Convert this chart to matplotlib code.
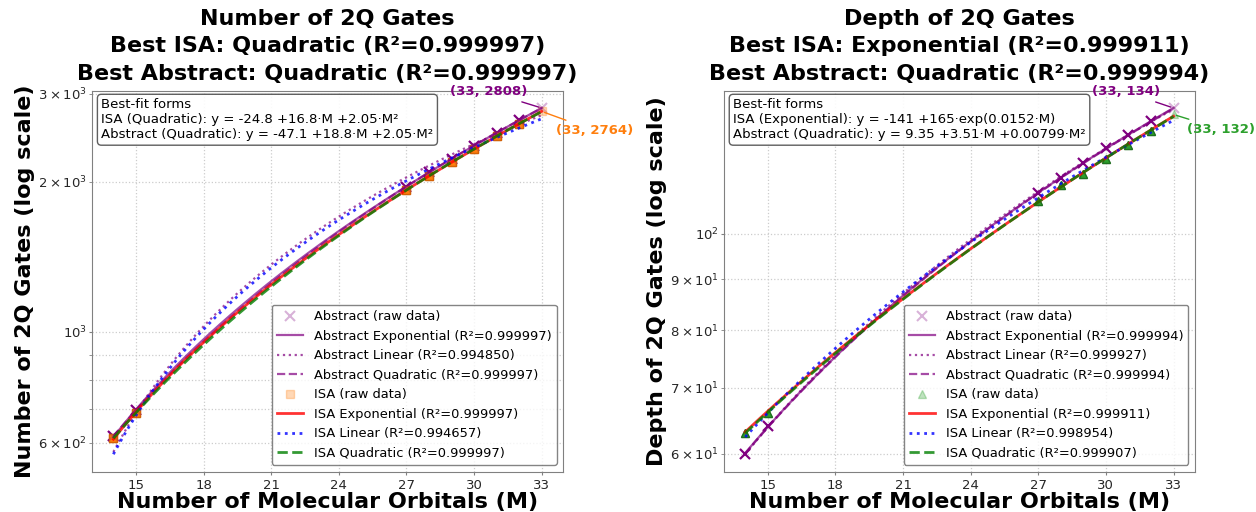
import numpy as np
import matplotlib.pyplot as plt

# molecular orbitals (M) for each benchmark molecule
M = np.array([14, 15, 27, 28, 29, 30, 31, 32, 33])

# two-qubit gate counts
gates_isa = np.array([612, 688, 1923, 2053, 2186, 2324, 2466, 2612, 2764])
gates_abstract = np.array([618, 696, 1955, 2087, 2222, 2362, 2506, 2654, 2808])

# two-qubit gate depth
depth_isa = np.array([63, 66, 108, 112, 115, 119, 123, 127, 132])
depth_abstract = np.array([60, 64, 110, 114, 118, 122, 126, 130, 134])

# R^2 per model, order: exponential, linear, quadratic
gates_r2_abstract = ["0.999997", "0.994850", "0.999997"]
gates_r2_isa = ["0.999997", "0.994657", "0.999997"]
depth_r2_abstract = ["0.999994", "0.999927", "0.999994"]
depth_r2_isa = ["0.999911", "0.998954", "0.999907"]

# reported best-fit coefficients
gates_isa_quad = (-24.8, 16.8, 2.05)
gates_abstract_quad = (-47.1, 18.8, 2.05)
depth_isa_exp = (-141, 165, 0.0152)
depth_abstract_quad = (9.35, 3.51, 0.00799)

MODELS = ["Exponential", "Linear", "Quadratic"]


def quad(p, x):
    return p[0] + p[1] * x + p[2] * x ** 2


def expo(p, x):
    return p[0] + p[1] * np.exp(p[2] * x)


def fit_exp(x, y):
    # scan the rate, solve offset/scale by least squares
    best = None
    for c in np.linspace(1e-4, 0.2, 4000):
        A = np.column_stack([np.ones_like(x, dtype=float), np.exp(c * x)])
        coef, _, _, _ = np.linalg.lstsq(A, y, rcond=None)
        err = np.sum((A @ coef - y) ** 2)
        if best is None or err < best[0]:
            best = (err, coef[0], coef[1], c)
    return best[1:]


def fit_curves(x, y, known):
    curves = {
        "Exponential": lambda xx, p=fit_exp(x, y): expo(p, xx),
        "Linear": lambda xx, p=np.polyfit(x, y, 1): np.polyval(p, xx),
        "Quadratic": lambda xx, p=np.polyfit(x, y, 2): np.polyval(p, xx),
    }
    for name, (kind, p) in known.items():
        curves[name] = (lambda xx, p=p: quad(p, xx)) if kind == "quad" else (lambda xx, p=p: expo(p, xx))
    return curves


def form_text(label, kind, p):
    if kind == "quad":
        return f"{label} (Quadratic): y = {p[0]:.3g} {p[1]:+.3g}·M {p[2]:+.3g}·M²"
    return f"{label} (Exponential): y = {p[0]:.3g} {p[1]:+.3g}·exp({p[2]:.3g}·M)"


def draw_panel(ax, y_abs, y_isa, r2_abs, r2_isa, known_abs, known_isa,
               isa_color, isa_marker, title, ylabel, isa_edge, txt_off):
    xx = np.linspace(M.min(), M.max(), 300)

    # raw data
    ax.plot(M, y_abs, "x", color="purple", alpha=0.3, ms=7, mew=1.5,
            label="Abstract (raw data)", zorder=3)
    ax.plot(M[:-1], y_abs[:-1], "x", color="purple", ms=7, mew=1.5, zorder=2)
    ax.plot(M, y_isa, isa_marker, color=isa_color, alpha=0.3, ms=6,
            mec=isa_color, label="ISA (raw data)", zorder=3)
    ax.plot(M[:-1], y_isa[:-1], isa_marker, color=isa_color, ms=6,
            mec=isa_edge, zorder=2)

    abs_curves = fit_curves(M, y_abs, known_abs)
    isa_curves = fit_curves(M, y_isa, known_isa)

    abs_styles = ["-", ":", "--"]
    isa_styles = [("red", "-"), ("blue", ":"), ("green", "--")]

    for name, ls, r2 in zip(MODELS, abs_styles, r2_abs):
        ax.plot(xx, abs_curves[name](xx), ls, color="purple", alpha=0.7,
                lw=1.6, label=f"Abstract {name} (R²={r2})", zorder=4)
    for name, (c, ls), r2 in zip(MODELS, isa_styles, r2_isa):
        ax.plot(xx, isa_curves[name](xx), ls, color=c, alpha=0.8,
                lw=2, label=f"ISA {name} (R²={r2})", zorder=4)

    ax.set_yscale("log")
    ax.set_xticks([15, 18, 21, 24, 27, 30, 33])
    ax.grid(True, which="both", linestyle=":", color="0.8", linewidth=0.9)
    ax.set_title(title, fontsize=16, fontweight="bold", linespacing=1.45, pad=8)
    ax.set_xlabel("Number of Molecular Orbitals (M)", fontsize=16, fontweight="bold")
    ax.set_ylabel(ylabel, fontsize=16, fontweight="bold")
    ax.xaxis.set_label_coords(0.5, -0.054)
    ax.yaxis.set_label_coords(-0.12, 0.5)
    ax.tick_params(axis="both", which="both", labelsize=9.5, colors="0.5",
                   labelcolor="0.15", length=2)
    ax.tick_params(axis="x", pad=3.3)
    ax.tick_params(axis="y", which="both", pad=1.5)
    for s in ax.spines.values():
        s.set_color("0.5")

    handles, labels = ax.get_legend_handles_labels()
    order = [0, 2, 3, 4, 1, 5, 6, 7]
    ax.legend([handles[i] for i in order], [labels[i] for i in order],
              loc="lower right", fontsize=9.4, edgecolor="0.4")

    isa_kind, isa_p = next(iter(known_isa.values()))
    abs_kind, abs_p = next(iter(known_abs.values()))
    box = "Best-fit forms\n" + form_text("ISA", isa_kind, isa_p) + "\n" \
          + form_text("Abstract", abs_kind, abs_p)
    ax.text(0.02, 0.98, box, transform=ax.transAxes, va="top", ha="left",
            fontsize=9.5, bbox=dict(boxstyle="round", facecolor="white", edgecolor="0.3", alpha=0.9))

    # label the largest instance
    ax.annotate(f"({M[-1]}, {y_abs[-1]})", (M[-1], y_abs[-1]), xytext=txt_off[0],
                textcoords="offset points", ha="right", va="bottom", color="purple",
                fontsize=9.5, fontweight="bold",
                arrowprops=dict(arrowstyle="-", color="purple", lw=1))
    ax.annotate(f"({M[-1]}, {y_isa[-1]})", (M[-1], y_isa[-1]), xytext=txt_off[1],
                textcoords="offset points", ha="left", va="top", color=isa_color,
                fontsize=9.5, fontweight="bold",
                arrowprops=dict(arrowstyle="-", color=isa_color, lw=1))


fig, (ax1, ax2) = plt.subplots(1, 2, figsize=(12.56, 5.12), dpi=100)
fig.subplots_adjust(left=0.0732, right=0.9514, wspace=0.341, bottom=0.079, top=0.823)

draw_panel(ax1, gates_abstract, gates_isa, gates_r2_abstract, gates_r2_isa,
           {"Quadratic": ("quad", gates_abstract_quad)},
           {"Quadratic": ("quad", gates_isa_quad)},
           "tab:orange", "s",
           "Number of 2Q Gates\nBest ISA: Quadratic (R²=0.999997)\nBest Abstract: Quadratic (R²=0.999997)",
           "Number of 2Q Gates (log scale)", "#b84f00",
           [(-10, 7), (10, -9)])

draw_panel(ax2, depth_abstract, depth_isa, depth_r2_abstract, depth_r2_isa,
           {"Quadratic": ("quad", depth_abstract_quad)},
           {"Exponential": ("exp", depth_isa_exp)},
           "tab:green", "^",
           "Depth of 2Q Gates\nBest ISA: Exponential (R²=0.999911)\nBest Abstract: Quadratic (R²=0.999994)",
           "Depth of 2Q Gates (log scale)", "#145214",
           [(-10, 7), (10, -6)])

fig.savefig("out.png", dpi=100)
